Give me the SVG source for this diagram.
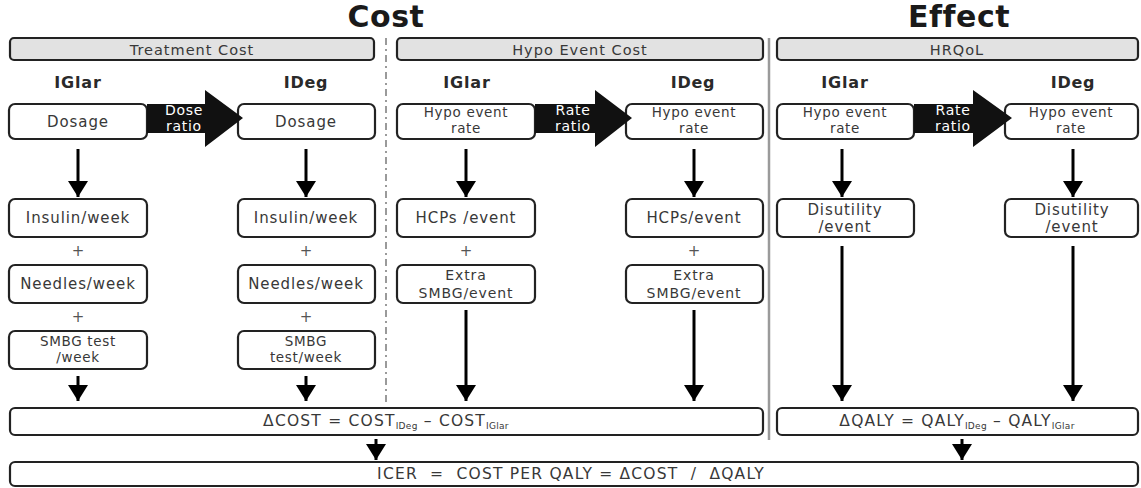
<svg xmlns="http://www.w3.org/2000/svg" width="1141" height="488" viewBox="0 0 1141 488">
<defs>
<style>
.box{fill:#fff;stroke:#222;stroke-width:2.2}
.hdr{fill:#e2e2e2;stroke:#222;stroke-width:2.2}
.t{font-family:"DejaVu Sans",Verdana,sans-serif;font-size:15px;letter-spacing:0.9px;fill:#383838;text-anchor:middle}
.t2{font-family:"DejaVu Sans",Verdana,sans-serif;font-size:13.5px;letter-spacing:0.7px;fill:#383838;text-anchor:middle}
.t3{font-family:"DejaVu Sans",Verdana,sans-serif;font-size:14px;letter-spacing:0.9px;fill:#383838;text-anchor:middle}
.h{font-family:"DejaVu Sans",Verdana,sans-serif;font-size:14.5px;letter-spacing:1px;fill:#383838;text-anchor:middle}
.lab{font-family:"DejaVu Sans",Verdana,sans-serif;font-size:16px;letter-spacing:0.8px;font-weight:bold;fill:#2a2a2a;text-anchor:middle}
.title{font-family:"DejaVu Sans",Verdana,sans-serif;font-size:30px;letter-spacing:0.5px;font-weight:bold;fill:#1a1a1a;text-anchor:middle}
.rt{font-family:"DejaVu Sans",Verdana,sans-serif;font-size:14px;letter-spacing:0.7px;fill:#fff;text-anchor:middle}
.eq{font-family:"DejaVu Sans",Verdana,sans-serif;font-size:15.5px;letter-spacing:1.2px;fill:#383838;text-anchor:middle}
.sub{font-size:9px;letter-spacing:0.3px}
.arr{stroke:#000;stroke-width:3;fill:none;marker-end:url(#ah)}
.big{fill:#111}
.plus{font-family:"DejaVu Sans",Verdana,sans-serif;font-size:15px;fill:#555;text-anchor:middle}
</style>
<marker id="ah" markerUnits="userSpaceOnUse" markerWidth="22" markerHeight="20" refX="16" refY="10" orient="auto">
<path d="M0,0 L16,10 L0,20 Z" fill="#000"/>
</marker>
</defs>
<rect width="1141" height="488" fill="#fff"/>

<g id="titles">
<text class="title" x="386" y="27">Cost</text>
<text class="title" x="959" y="27">Effect</text>
</g>

<g id="separators">
<line x1="386" y1="38" x2="386" y2="405" stroke="#9a9a9a" stroke-width="2" stroke-dasharray="7,4,2,4"/>
<line x1="769" y1="38" x2="769" y2="440" stroke="#9a9a9a" stroke-width="2.5"/>
</g>

<g id="hdr-treatment"><rect class="hdr" x="10" y="38" width="364" height="22" rx="4"/><text class="h" x="192" y="54.5">Treatment Cost</text></g>
<g id="hdr-hypo"><rect class="hdr" x="397" y="38" width="366" height="22" rx="4"/><text class="h" x="580" y="54.5">Hypo Event Cost</text></g>
<g id="hdr-hrqol"><rect class="hdr" x="777" y="38" width="361" height="22" rx="4"/><text class="h" x="957" y="54.5">HRQoL</text></g>

<g id="labels">
<text class="lab" x="78" y="88">IGlar</text>
<text class="lab" x="306" y="88">IDeg</text>
<text class="lab" x="467" y="88">IGlar</text>
<text class="lab" x="693" y="88">IDeg</text>
<text class="lab" x="845" y="88">IGlar</text>
<text class="lab" x="1073" y="88">IDeg</text>
</g>

<g id="dosage-iglar"><rect class="box" x="9" y="104" width="138" height="35" rx="6"/><text class="t" x="78" y="127">Dosage</text></g>
<g id="dosage-ideg"><rect class="box" x="238" y="104" width="137" height="35" rx="6"/><text class="t" x="306" y="127">Dosage</text></g>
<g id="dose-ratio"><path class="big" d="M147,104 H205 V90 L243,118 L205,147 V133 H147 Z"/><text class="rt" x="184" y="114.5">Dose</text><text class="rt" x="184" y="131">ratio</text></g>

<g id="hypo-rate-iglar"><rect class="box" x="397" y="104" width="138" height="35" rx="6"/><text class="t2" x="466" y="117">Hypo event</text><text class="t2" x="466" y="133">rate</text></g>
<g id="hypo-rate-ideg"><rect class="box" x="626" y="104" width="137" height="35" rx="6"/><text class="t2" x="694" y="117">Hypo event</text><text class="t2" x="694" y="133">rate</text></g>
<g id="rate-ratio-1"><path class="big" d="M535,104 H595 V90 L632,118 L595,147 V133 H535 Z"/><text class="rt" x="573" y="114.5">Rate</text><text class="rt" x="573" y="131">ratio</text></g>

<g id="hrqol-rate-iglar"><rect class="box" x="777" y="104" width="137" height="35" rx="6"/><text class="t2" x="845" y="117">Hypo event</text><text class="t2" x="845" y="133">rate</text></g>
<g id="hrqol-rate-ideg"><rect class="box" x="1005" y="104" width="133" height="35" rx="6"/><text class="t2" x="1071" y="117">Hypo event</text><text class="t2" x="1071" y="133">rate</text></g>
<g id="rate-ratio-2"><path class="big" d="M914,104 H973 V90 L1012,118 L973,147 V133 H914 Z"/><text class="rt" x="953" y="114.5">Rate</text><text class="rt" x="953" y="131">ratio</text></g>

<g id="insulin-iglar"><rect class="box" x="9" y="199" width="138" height="38" rx="6"/><text class="t" x="78" y="223">Insulin/week</text></g>
<g id="insulin-ideg"><rect class="box" x="238" y="199" width="137" height="38" rx="6"/><text class="t" x="306" y="223">Insulin/week</text></g>
<g id="needles-iglar"><rect class="box" x="9" y="265" width="138" height="38" rx="6"/><text class="t" x="78" y="289">Needles/week</text></g>
<g id="needles-ideg"><rect class="box" x="238" y="265" width="137" height="38" rx="6"/><text class="t" x="306" y="289">Needles/week</text></g>
<g id="smbg-iglar"><rect class="box" x="9" y="331" width="138" height="38" rx="6"/><text class="t2" x="78" y="345.5">SMBG test</text><text class="t2" x="78" y="362">/week</text></g>
<g id="smbg-ideg"><rect class="box" x="238" y="331" width="137" height="38" rx="6"/><text class="t2" x="306" y="345.5">SMBG</text><text class="t2" x="306" y="362">test/week</text></g>

<g id="hcps-iglar"><rect class="box" x="397" y="199" width="138" height="38" rx="6"/><text class="t" x="466" y="223">HCPs /event</text></g>
<g id="hcps-ideg"><rect class="box" x="626" y="199" width="137" height="38" rx="6"/><text class="t" x="694" y="223">HCPs/event</text></g>
<g id="extra-iglar"><rect class="box" x="397" y="265" width="138" height="38" rx="6"/><text class="t3" x="466" y="280">Extra</text><text class="t3" x="466" y="297.5">SMBG/event</text></g>
<g id="extra-ideg"><rect class="box" x="626" y="265" width="137" height="38" rx="6"/><text class="t3" x="694" y="280">Extra</text><text class="t3" x="694" y="297.5">SMBG/event</text></g>

<g id="disutility-iglar"><rect class="box" x="777" y="199" width="137" height="38" rx="6"/><text class="t" x="845" y="215">Disutility</text><text class="t" x="845" y="231.5">/event</text></g>
<g id="disutility-ideg"><rect class="box" x="1005" y="199" width="133" height="38" rx="6"/><text class="t" x="1072" y="215">Disutility</text><text class="t" x="1072" y="231.5">/event</text></g>

<g id="plus-signs">
<text class="plus" x="78" y="256">+</text>
<text class="plus" x="306" y="256">+</text>
<text class="plus" x="78" y="322">+</text>
<text class="plus" x="306" y="322">+</text>
<text class="plus" x="466" y="256">+</text>
<text class="plus" x="694" y="256">+</text>
</g>

<g id="delta-cost"><rect class="box" x="10" y="408" width="753" height="27" rx="5"/><text class="eq" x="386" y="426">ΔCOST = COST<tspan class="sub" dy="3">IDeg</tspan><tspan dy="-3"> – COST</tspan><tspan class="sub" dy="3">IGlar</tspan></text></g>
<g id="delta-qaly"><rect class="box" x="777" y="408" width="361" height="27" rx="5"/><text class="eq" x="957" y="426">ΔQALY = QALY<tspan class="sub" dy="3">IDeg</tspan><tspan dy="-3"> – QALY</tspan><tspan class="sub" dy="3">IGlar</tspan></text></g>
<g id="icer"><rect class="box" x="10" y="462" width="1128" height="24" rx="5"/><text class="eq" x="571" y="479" xml:space="preserve">ICER  =  COST PER QALY = ΔCOST  /  ΔQALY</text></g>

<g id="connectors">
<line class="arr" x1="78" y1="149" x2="78" y2="197"/>
<line class="arr" x1="306" y1="149" x2="306" y2="197"/>
<line class="arr" x1="466" y1="149" x2="466" y2="197"/>
<line class="arr" x1="694" y1="149" x2="694" y2="197"/>
<line class="arr" x1="842" y1="149" x2="842" y2="197"/>
<line class="arr" x1="1073" y1="149" x2="1073" y2="197"/>
<line class="arr" x1="78" y1="376" x2="78" y2="401"/>
<line class="arr" x1="306" y1="376" x2="306" y2="401"/>
<line class="arr" x1="466" y1="310" x2="466" y2="401"/>
<line class="arr" x1="694" y1="310" x2="694" y2="401"/>
<line class="arr" x1="842" y1="246" x2="842" y2="401"/>
<line class="arr" x1="1073" y1="246" x2="1073" y2="401"/>
<line class="arr" x1="376" y1="439" x2="376" y2="460"/>
<line class="arr" x1="962" y1="439" x2="962" y2="460"/>
</g>
</svg>
